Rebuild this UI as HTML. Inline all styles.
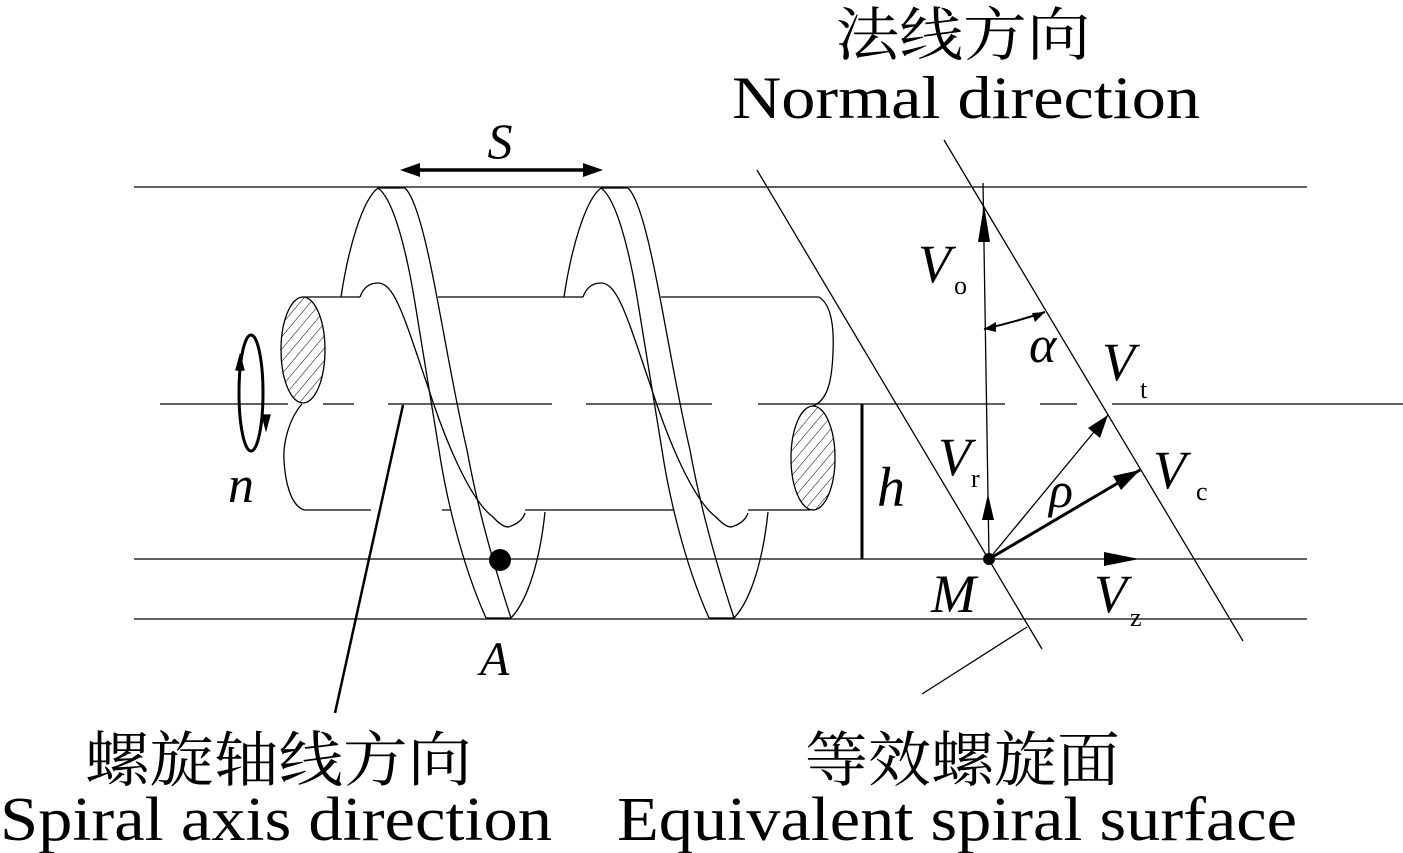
<!DOCTYPE html>
<html><head><meta charset="utf-8"><style>
html,body{margin:0;padding:0;background:#fff;}
svg{display:block;}
text{font-family:"Liberation Serif","Noto Serif CJK SC","Noto Sans CJK SC",serif;fill:#000;}
.it{font-style:italic;}
</style></head><body>
<svg width="1403" height="853" viewBox="0 0 1403 853" xmlns="http://www.w3.org/2000/svg">
<defs>
<pattern id="hatch" width="8" height="8" patternUnits="userSpaceOnUse" patternTransform="rotate(40)">
<line x1="0" y1="0" x2="0" y2="8" stroke="#000" stroke-width="1"/>
</pattern>
<marker id="ah" markerWidth="12" markerHeight="8" refX="11" refY="4" orient="auto" markerUnits="userSpaceOnUse">
<path d="M0,0 L12,4 L0,8 Z" fill="#000"/>
</marker>
</defs>
<g stroke="#000" fill="none" stroke-width="1.3">
<!-- horizontal lines -->
<line x1="134" y1="187" x2="1307" y2="187"/>
<line x1="134" y1="559" x2="1307" y2="559"/>
<line x1="134" y1="619" x2="1307" y2="619"/>
<path d="M160,404H288 M323,404H354 M388,404H552 M586,404H712 M758,404H1005 M1040,404H1077 M1112,404H1403"/>

<!-- shaft -->
<path d="M303,297H360 M438,297H583 M661,297H819"/>
<path d="M304,510H371 M442,510H451 M525,510H674 M748,510H810"/>
<path d="M819,297 C832,305 834,330 833,352 C832,380 828,400 813,406"/>
<ellipse cx="303" cy="350" rx="22" ry="53" fill="url(#hatch)"/>
<path d="M302,404 C288,420 283,445 284,460 C285,480 290,505 304,510"/>
<ellipse cx="813" cy="458" rx="22" ry="52" fill="url(#hatch)"/>

<!-- flights -->
<g id="fl">
<path d="M378,188 C362,200 348,250 341,297"/>
<path d="M378,188 C395,200 408,260 415,303 C423,350 431,400 439,450 C445,490 460,560 486,618"/>
<path d="M378,188 L405,188 C418,200 430,260 438,303 C447,350 456,403 467,450 C476,500 492,560 511,618 L486,618"/>
<path d="M545,512 C540,560 528,600 511,618"/>
<path d="M360,297 Q365,283 378,283 C395,283 405,320 428,387 C445,440 470,500 493,517 Q505,530 511,526 Q522,522 525,513"/>
</g>
<use href="#fl" transform="translate(223,0)"/>

<!-- rotation n -->
<ellipse cx="251" cy="393" rx="12" ry="58" stroke-width="3"/>
<path d="M236,370 L240,355 L244,370 Z" fill="#000"/>
<path d="M262,415 L266,430 L270,415 Z" fill="#000"/>

<!-- leader lines -->
<line x1="403" y1="405" x2="335" y2="713" stroke-width="2.5"/>
<line x1="1027" y1="627" x2="922" y2="694"/>

<!-- S arrow -->
<line x1="418" y1="170" x2="585" y2="170" stroke-width="3.5"/>
<path d="M400,170 L420,163 L420,177 Z M603,170 L583,163 L583,177 Z" fill="#000" stroke="none"/>

<!-- inclined lines -->
<line x1="757" y1="170" x2="1042" y2="649"/>
<line x1="944" y1="140" x2="1243" y2="641"/>

<!-- vertical vector -->
<line x1="983" y1="183" x2="989" y2="559"/>
<path d="M984,205 L978,242 L990,242 Z" fill="#000" stroke="none"/>
<path d="M988,494 L982,520 L994,520 Z" fill="#000" stroke="none"/>
<path d="M984,329 Q1015,322 1045,312" stroke-width="2"/>
<path d="M984,329 L996,322 L996,332 Z M1045,312 L1032,313 L1035,322 Z" fill="#000" stroke="none"/>
<!-- Vt -->
<line x1="989" y1="559" x2="1108" y2="415"/>
<path d="M1108,415 L1088,428 L1100,438 Z" fill="#000" stroke="none"/>
<!-- Vc -->
<line x1="989" y1="559" x2="1140" y2="470" stroke-width="3"/>
<path d="M1140,470 L1113,476 L1121,490 Z" fill="#000" stroke="none"/>
<!-- Vz -->
<path d="M1104,552 L1139,559 L1104,566 Z" fill="#000" stroke="none"/>
<!-- h -->
<line x1="862" y1="404" x2="862" y2="559" stroke-width="3"/>
</g>
<circle cx="500" cy="560" r="11" fill="#000"/>
<circle cx="989" cy="559" r="6" fill="#000"/>

<!-- labels -->
<text x="963" y="55" font-size="58" text-anchor="middle" textLength="255" lengthAdjust="spacingAndGlyphs">法线方向</text>
<text x="732" y="118" font-size="60" textLength="468" lengthAdjust="spacingAndGlyphs">Normal direction</text>
<text class="it" x="500" y="158" font-size="50" text-anchor="middle">S</text>
<text class="it" x="228" y="502" font-size="52">n</text>
<text class="it" x="480" y="675" font-size="48">A</text>
<text class="it" x="877" y="506" font-size="56">h</text>
<text class="it" x="918" y="282" font-size="54">V</text>
<text x="954" y="294" font-size="26">o</text>
<text class="it" x="1029" y="362" font-size="52">α</text>
<text class="it" x="1102" y="380" font-size="54">V</text>
<text x="1140" y="398" font-size="26">t</text>
<text class="it" x="938" y="475" font-size="54">V</text>
<text x="971" y="487" font-size="26">r</text>
<text class="it" x="1049" y="507" font-size="50">ρ</text>
<text class="it" x="1153" y="488" font-size="54">V</text>
<text x="1196" y="500" font-size="26">c</text>
<text class="it" x="931" y="612" font-size="54">M</text>
<text class="it" x="1094" y="612" font-size="54">V</text>
<text x="1130" y="626" font-size="26">z</text>
<text x="85" y="781" font-size="60" textLength="387" lengthAdjust="spacingAndGlyphs">螺旋轴线方向</text>
<text x="0" y="840" font-size="62" textLength="552" lengthAdjust="spacingAndGlyphs">Spiral axis direction</text>
<text x="805" y="781" font-size="60" textLength="315" lengthAdjust="spacingAndGlyphs">等效螺旋面</text>
<text x="617" y="840" font-size="62" textLength="680" lengthAdjust="spacingAndGlyphs">Equivalent spiral surface</text>
</svg>
</body></html>
